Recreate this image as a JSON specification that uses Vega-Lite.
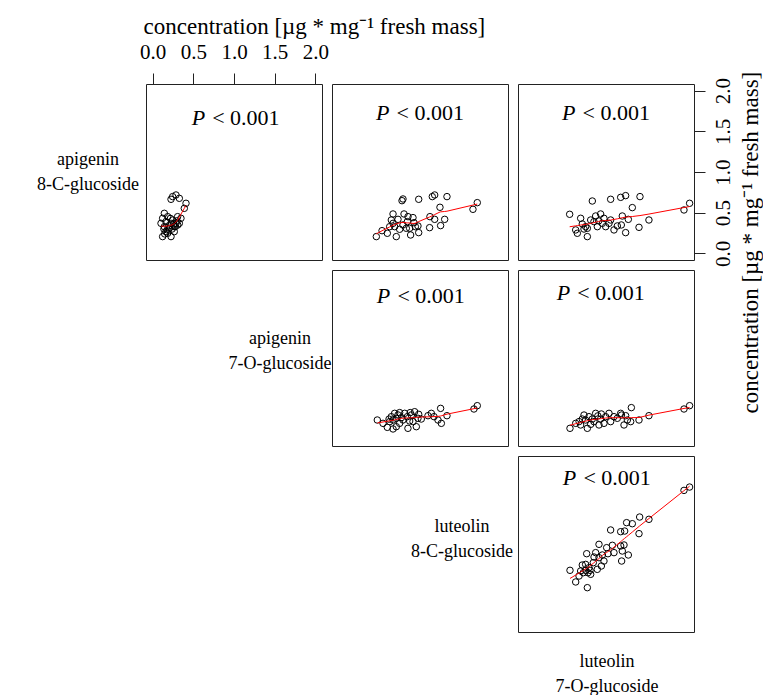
{
  "$schema": "https://vega.github.io/schema/vega-lite/v6.json",
  "padding": {"left": 0, "top": 14, "right": 0, "bottom": 0},
  "background": "white",
  "config": {
    "view": {"stroke": "#222", "strokeWidth": 1},
    "font": "Liberation Serif",
    "axis": {"labelFont": "Liberation Serif", "titleFont": "Liberation Serif", "labelColor": "black", "titleColor": "black", "tickColor": "#222", "titleFontWeight": "normal"}
  },
  "datasets": {
    "pts": [
      {"p":"BA","x":0.247,"y":0.698},{"p":"BA","x":0.288,"y":0.718},{"p":"BA","x":0.329,"y":0.677},{"p":"BA","x":0.227,"y":0.665},{"p":"BA","x":0.411,"y":0.616},{"p":"BA","x":0.390,"y":0.554},{"p":"BA","x":0.145,"y":0.493},{"p":"BA","x":0.124,"y":0.207},{"p":"BA","x":0.227,"y":0.207},{"p":"BA","x":0.165,"y":0.268},{"p":"BA","x":0.104,"y":0.370},{"p":"BA","x":0.186,"y":0.452},{"p":"BA","x":0.247,"y":0.411},{"p":"BA","x":0.308,"y":0.452},{"p":"BA","x":0.329,"y":0.370},{"p":"BA","x":0.267,"y":0.329},{"p":"BA","x":0.206,"y":0.309},{"p":"BA","x":0.145,"y":0.329},{"p":"BA","x":0.288,"y":0.370},{"p":"BA","x":0.349,"y":0.432},{"p":"BA","x":0.124,"y":0.432},{"p":"BA","x":0.227,"y":0.370},{"p":"BA","x":0.186,"y":0.248},{"p":"BA","x":0.267,"y":0.268},{"p":"BA","x":0.165,"y":0.391},{"p":"BA","x":0.20,"y":0.34},{"p":"BA","x":0.24,"y":0.30},{"p":"BA","x":0.18,"y":0.29},{"p":"BA","x":0.30,"y":0.40},{"p":"BA","x":0.26,"y":0.36},{"p":"BA","x":0.15,"y":0.24},{"p":"BA","x":0.22,"y":0.43},{"p":"BA","x":0.28,"y":0.33},{"p":"BA","x":0.31,"y":0.35},{"p":"BA","x":0.14,"y":0.30},
      {"p":"CA","x":1.703,"y":0.624},{"p":"CA","x":1.650,"y":0.542},{"p":"CA","x":1.331,"y":0.698},{"p":"CA","x":1.180,"y":0.718},{"p":"CA","x":1.151,"y":0.698},{"p":"CA","x":0.984,"y":0.665},{"p":"CA","x":0.791,"y":0.669},{"p":"CA","x":0.779,"y":0.648},{"p":"CA","x":1.245,"y":0.567},{"p":"CA","x":1.303,"y":0.419},{"p":"CA","x":1.180,"y":0.419},{"p":"CA","x":1.122,"y":0.452},{"p":"CA","x":1.253,"y":0.342},{"p":"CA","x":1.118,"y":0.317},{"p":"CA","x":0.984,"y":0.256},{"p":"CA","x":0.975,"y":0.338},{"p":"CA","x":0.926,"y":0.378},{"p":"CA","x":0.853,"y":0.452},{"p":"CA","x":0.804,"y":0.485},{"p":"CA","x":0.669,"y":0.485},{"p":"CA","x":0.730,"y":0.419},{"p":"CA","x":0.669,"y":0.370},{"p":"CA","x":0.628,"y":0.329},{"p":"CA","x":0.534,"y":0.280},{"p":"CA","x":0.464,"y":0.207},{"p":"CA","x":0.599,"y":0.248},{"p":"CA","x":0.709,"y":0.207},{"p":"CA","x":0.750,"y":0.297},{"p":"CA","x":0.873,"y":0.309},{"p":"CA","x":0.885,"y":0.227},{"p":"CA","x":0.845,"y":0.391},{"p":"CA","x":0.914,"y":0.440},{"p":"CA","x":0.943,"y":0.329},{"p":"CA","x":0.791,"y":0.350},{"p":"CA","x":0.689,"y":0.329},{"p":"CA","x":0.648,"y":0.411},{"p":"CA","x":0.832,"y":0.309},
      {"p":"DA","x":2.026,"y":0.616},{"p":"DA","x":1.957,"y":0.534},{"p":"DA","x":1.527,"y":0.411},{"p":"DA","x":1.405,"y":0.321},{"p":"DA","x":1.417,"y":0.698},{"p":"DA","x":1.323,"y":0.563},{"p":"DA","x":1.241,"y":0.710},{"p":"DA","x":1.180,"y":0.689},{"p":"DA","x":1.057,"y":0.665},{"p":"DA","x":0.832,"y":0.644},{"p":"DA","x":0.554,"y":0.481},{"p":"DA","x":0.689,"y":0.432},{"p":"DA","x":0.628,"y":0.289},{"p":"DA","x":0.648,"y":0.248},{"p":"DA","x":0.771,"y":0.207},{"p":"DA","x":0.771,"y":0.309},{"p":"DA","x":0.873,"y":0.460},{"p":"DA","x":0.934,"y":0.485},{"p":"DA","x":0.975,"y":0.432},{"p":"DA","x":1.057,"y":0.411},{"p":"DA","x":1.200,"y":0.460},{"p":"DA","x":1.274,"y":0.419},{"p":"DA","x":1.241,"y":0.256},{"p":"DA","x":1.098,"y":0.289},{"p":"DA","x":0.812,"y":0.411},{"p":"DA","x":0.894,"y":0.329},{"p":"DA","x":0.996,"y":0.329},{"p":"DA","x":1.139,"y":0.338},{"p":"DA","x":1.188,"y":0.350},{"p":"DA","x":0.709,"y":0.362},{"p":"DA","x":0.852,"y":0.391},{"p":"DA","x":0.955,"y":0.370},{"p":"DA","x":0.750,"y":0.329},{"p":"DA","x":1.037,"y":0.370},{"p":"DA","x":0.910,"y":0.400},{"p":"DA","x":0.730,"y":0.300},
      {"p":"CB","x":1.703,"y":0.415},{"p":"CB","x":1.662,"y":0.374},{"p":"CB","x":1.331,"y":0.292},{"p":"CB","x":1.253,"y":0.382},{"p":"CB","x":1.139,"y":0.321},{"p":"CB","x":1.172,"y":0.280},{"p":"CB","x":1.221,"y":0.239},{"p":"CB","x":1.262,"y":0.198},{"p":"CB","x":0.984,"y":0.309},{"p":"CB","x":0.975,"y":0.260},{"p":"CB","x":0.894,"y":0.301},{"p":"CB","x":0.873,"y":0.227},{"p":"CB","x":0.812,"y":0.321},{"p":"CB","x":0.791,"y":0.239},{"p":"CB","x":0.730,"y":0.301},{"p":"CB","x":0.689,"y":0.321},{"p":"CB","x":0.669,"y":0.239},{"p":"CB","x":0.628,"y":0.219},{"p":"CB","x":0.599,"y":0.149},{"p":"CB","x":0.669,"y":0.129},{"p":"CB","x":0.709,"y":0.157},{"p":"CB","x":0.546,"y":0.198},{"p":"CB","x":0.476,"y":0.239},{"p":"CB","x":0.852,"y":0.137},{"p":"CB","x":0.955,"y":0.157},{"p":"CB","x":0.750,"y":0.198},{"p":"CB","x":0.914,"y":0.219},{"p":"CB","x":0.845,"y":0.280},{"p":"CB","x":0.771,"y":0.268},{"p":"CB","x":0.709,"y":0.260},{"p":"CB","x":0.648,"y":0.280},{"p":"CB","x":0.934,"y":0.341},{"p":"CB","x":1.016,"y":0.251},{"p":"CB","x":1.098,"y":0.292},{"p":"CB","x":0.750,"y":0.330},{"p":"CB","x":0.880,"y":0.330},{"p":"CB","x":0.620,"y":0.250},
      {"p":"DB","x":2.026,"y":0.415},{"p":"DB","x":1.957,"y":0.374},{"p":"DB","x":1.527,"y":0.292},{"p":"DB","x":1.405,"y":0.239},{"p":"DB","x":1.311,"y":0.391},{"p":"DB","x":1.241,"y":0.292},{"p":"DB","x":1.180,"y":0.321},{"p":"DB","x":1.262,"y":0.239},{"p":"DB","x":1.098,"y":0.280},{"p":"DB","x":1.057,"y":0.219},{"p":"DB","x":0.996,"y":0.280},{"p":"DB","x":0.934,"y":0.251},{"p":"DB","x":0.873,"y":0.321},{"p":"DB","x":0.852,"y":0.219},{"p":"DB","x":0.791,"y":0.280},{"p":"DB","x":0.750,"y":0.239},{"p":"DB","x":0.709,"y":0.251},{"p":"DB","x":0.771,"y":0.137},{"p":"DB","x":0.689,"y":0.178},{"p":"DB","x":0.628,"y":0.198},{"p":"DB","x":0.558,"y":0.137},{"p":"DB","x":0.914,"y":0.178},{"p":"DB","x":0.975,"y":0.198},{"p":"DB","x":1.139,"y":0.260},{"p":"DB","x":0.812,"y":0.186},{"p":"DB","x":1.037,"y":0.321},{"p":"DB","x":0.943,"y":0.313},{"p":"DB","x":0.832,"y":0.251},{"p":"DB","x":1.221,"y":0.178},{"p":"DB","x":1.303,"y":0.219},{"p":"DB","x":0.730,"y":0.300},{"p":"DB","x":0.900,"y":0.290},{"p":"DB","x":1.190,"y":0.300},{"p":"DB","x":0.670,"y":0.220},
      {"p":"DC","x":2.026,"y":1.699},{"p":"DC","x":1.957,"y":1.658},{"p":"DC","x":1.527,"y":1.303},{"p":"DC","x":1.413,"y":1.331},{"p":"DC","x":1.253,"y":1.262},{"p":"DC","x":1.323,"y":1.249},{"p":"DC","x":1.229,"y":1.159},{"p":"DC","x":1.180,"y":1.151},{"p":"DC","x":1.405,"y":1.127},{"p":"DC","x":1.057,"y":1.172},{"p":"DC","x":1.221,"y":0.988},{"p":"DC","x":1.180,"y":0.975},{"p":"DC","x":1.078,"y":0.984},{"p":"DC","x":1.008,"y":0.955},{"p":"DC","x":0.914,"y":0.996},{"p":"DC","x":1.200,"y":0.914},{"p":"DC","x":1.098,"y":0.894},{"p":"DC","x":1.024,"y":0.881},{"p":"DC","x":0.955,"y":0.865},{"p":"DC","x":0.853,"y":0.840},{"p":"DC","x":0.763,"y":0.881},{"p":"DC","x":0.873,"y":0.894},{"p":"DC","x":1.274,"y":0.865},{"p":"DC","x":1.192,"y":0.791},{"p":"DC","x":0.975,"y":0.791},{"p":"DC","x":0.914,"y":0.832},{"p":"DC","x":0.844,"y":0.771},{"p":"DC","x":0.750,"y":0.750},{"p":"DC","x":0.709,"y":0.742},{"p":"DC","x":0.791,"y":0.709},{"p":"DC","x":0.943,"y":0.730},{"p":"DC","x":0.893,"y":0.689},{"p":"DC","x":0.558,"y":0.677},{"p":"DC","x":0.689,"y":0.669},{"p":"DC","x":0.750,"y":0.677},{"p":"DC","x":0.779,"y":0.648},{"p":"DC","x":0.812,"y":0.628},{"p":"DC","x":0.669,"y":0.607},{"p":"DC","x":0.628,"y":0.534},{"p":"DC","x":0.771,"y":0.464},{"p":"DC","x":0.722,"y":0.648},{"p":"DC","x":0.804,"y":0.677}
    ]
  },
  "columns": 4,
  "spacing": 10,
  "bounds": "flush",
  "align": "each",
  "concat": [
    {"width": 136, "height": 176, "view": {"stroke": null},
     "data": {"values": [{"lx": 0.647, "ly": 0.568, "t": "apigenin\n8-C-glucoside"}]},
     "mark": {"type": "text", "font": "Liberation Serif", "fontSize": 18, "lineBreak": "\n", "lineHeight": 25, "align": "center", "baseline": "middle", "color": "black"},
     "encoding": {"x": {"field": "lx", "type": "quantitative", "scale": {"domain": [0, 1]}, "axis": null}, "y": {"field": "ly", "type": "quantitative", "scale": {"domain": [0, 1]}, "axis": null}, "text": {"field": "t"}}},
    {"width": 176, "height": 176, "data": {"name": "pts"}, "transform": [{"filter": "datum.p == 'BA'"}],
     "layer": [
       {"mark": {"type": "point", "shape": "circle", "filled": false, "stroke": "black", "strokeWidth": 1, "size": 42, "opacity": 1},
        "encoding": {"x": {"field": "x", "type": "quantitative", "scale": {"domain": [-0.08, 2.08], "nice": false, "zero": false},
                           "axis": {"orient": "top", "values": [0, 0.5, 1, 1.5, 2], "format": ".1f", "domain": false, "grid": false, "tickSize": 11, "labelFontSize": 21, "labelBaseline": "middle", "labelPadding": 21, "labelFlush": false, "labelOverlap": false,
                                    "title": "concentration [µg * mg⁻¹ fresh mass]", "titleFontSize": 23, "titleX": -3, "titleY": -51, "titleAlign": "left", "titleBaseline": "alphabetic"}},
                     "y": {"field": "y", "type": "quantitative", "scale": {"domain": [-0.08, 2.08], "nice": false, "zero": false}, "axis": null}}},
       {"transform": [{"loess": "y", "on": "x", "bandwidth": 0.67}], "mark": {"type": "line", "color": "red", "strokeWidth": 1},
        "encoding": {"x": {"field": "x", "type": "quantitative"}, "y": {"field": "y", "type": "quantitative"}}},
       {"data": {"values": [{"x": 1.02, "y": 1.66}]}, "mark": {"type": "text", "text": "P", "fontStyle": "italic", "fontSize": 22, "align": "left", "baseline": "middle", "dx": -44, "color": "black"},
        "encoding": {"x": {"field": "x", "type": "quantitative"}, "y": {"field": "y", "type": "quantitative"}}},
       {"data": {"values": [{"x": 1.02, "y": 1.66}]}, "mark": {"type": "text", "text": "< 0.001", "fontSize": 22, "align": "right", "baseline": "middle", "dx": 44, "color": "black"},
        "encoding": {"x": {"field": "x", "type": "quantitative"}, "y": {"field": "y", "type": "quantitative"}}}
     ]},
    {"width": 176, "height": 176, "data": {"name": "pts"}, "transform": [{"filter": "datum.p == 'CA'"}],
     "layer": [
       {"mark": {"type": "point", "shape": "circle", "filled": false, "stroke": "black", "strokeWidth": 1, "size": 42, "opacity": 1},
        "encoding": {"x": {"field": "x", "type": "quantitative", "scale": {"domain": [-0.08, 2.08], "nice": false, "zero": false}, "axis": null},
                     "y": {"field": "y", "type": "quantitative", "scale": {"domain": [-0.08, 2.08], "nice": false, "zero": false}, "axis": null}}},
       {"transform": [{"loess": "y", "on": "x", "bandwidth": 0.67}], "mark": {"type": "line", "color": "red", "strokeWidth": 1},
        "encoding": {"x": {"field": "x", "type": "quantitative"}, "y": {"field": "y", "type": "quantitative"}}},
       {"data": {"values": [{"x": 1.0, "y": 1.72}]}, "mark": {"type": "text", "text": "P", "fontStyle": "italic", "fontSize": 22, "align": "left", "baseline": "middle", "dx": -44, "color": "black"},
        "encoding": {"x": {"field": "x", "type": "quantitative"}, "y": {"field": "y", "type": "quantitative"}}},
       {"data": {"values": [{"x": 1.0, "y": 1.72}]}, "mark": {"type": "text", "text": "< 0.001", "fontSize": 22, "align": "right", "baseline": "middle", "dx": 44, "color": "black"},
        "encoding": {"x": {"field": "x", "type": "quantitative"}, "y": {"field": "y", "type": "quantitative"}}}
     ]},
    {"width": 176, "height": 176, "data": {"name": "pts"}, "transform": [{"filter": "datum.p == 'DA'"}],
     "layer": [
       {"mark": {"type": "point", "shape": "circle", "filled": false, "stroke": "black", "strokeWidth": 1, "size": 42, "opacity": 1},
        "encoding": {"x": {"field": "x", "type": "quantitative", "scale": {"domain": [-0.08, 2.08], "nice": false, "zero": false}, "axis": null},
                     "y": {"field": "y", "type": "quantitative", "scale": {"domain": [-0.08, 2.08], "nice": false, "zero": false},
                           "axis": {"orient": "right", "values": [0, 0.5, 1, 1.5, 2], "format": ".1f", "domain": false, "grid": false, "tickSize": 11, "labelFontSize": 21, "labelAngle": 270, "labelAlign": "center", "labelBaseline": "middle", "labelPadding": 18, "labelFlush": false, "labelOverlap": false,
                                    "title": "concentration [µg * mg⁻¹ fresh mass]", "titleFontSize": 23, "titleAngle": 270, "titleX": 63, "titleY": 329, "titleAlign": "left", "titleBaseline": "alphabetic"}}}},
       {"transform": [{"loess": "y", "on": "x", "bandwidth": 0.67}], "mark": {"type": "line", "color": "red", "strokeWidth": 1},
        "encoding": {"x": {"field": "x", "type": "quantitative"}, "y": {"field": "y", "type": "quantitative"}}},
       {"data": {"values": [{"x": 1.0, "y": 1.72}]}, "mark": {"type": "text", "text": "P", "fontStyle": "italic", "fontSize": 22, "align": "left", "baseline": "middle", "dx": -44, "color": "black"},
        "encoding": {"x": {"field": "x", "type": "quantitative"}, "y": {"field": "y", "type": "quantitative"}}},
       {"data": {"values": [{"x": 1.0, "y": 1.72}]}, "mark": {"type": "text", "text": "< 0.001", "fontSize": 22, "align": "right", "baseline": "middle", "dx": 44, "color": "black"},
        "encoding": {"x": {"field": "x", "type": "quantitative"}, "y": {"field": "y", "type": "quantitative"}}}
     ]},
    {"width": 136, "height": 176, "view": {"stroke": null}, "data": {"values": [{"t": ""}]}, "mark": {"type": "text"}, "encoding": {"text": {"field": "t"}}},
    {"width": 176, "height": 176, "view": {"stroke": null},
     "data": {"values": [{"lx": 0.761, "ly": 0.607, "t": "apigenin\n7-O-glucoside"}]},
     "mark": {"type": "text", "font": "Liberation Serif", "fontSize": 18, "lineBreak": "\n", "lineHeight": 25, "align": "center", "baseline": "middle", "color": "black"},
     "encoding": {"x": {"field": "lx", "type": "quantitative", "scale": {"domain": [0, 1]}, "axis": null}, "y": {"field": "ly", "type": "quantitative", "scale": {"domain": [0, 1]}, "axis": null}, "text": {"field": "t"}}},
    {"width": 176, "height": 176, "data": {"name": "pts"}, "transform": [{"filter": "datum.p == 'CB'"}],
     "layer": [
       {"mark": {"type": "point", "shape": "circle", "filled": false, "stroke": "black", "strokeWidth": 1, "size": 42, "opacity": 1},
        "encoding": {"x": {"field": "x", "type": "quantitative", "scale": {"domain": [-0.08, 2.08], "nice": false, "zero": false}, "axis": null},
                     "y": {"field": "y", "type": "quantitative", "scale": {"domain": [-0.08, 2.08], "nice": false, "zero": false}, "axis": null}}},
       {"transform": [{"loess": "y", "on": "x", "bandwidth": 0.67}], "mark": {"type": "line", "color": "red", "strokeWidth": 1},
        "encoding": {"x": {"field": "x", "type": "quantitative"}, "y": {"field": "y", "type": "quantitative"}}},
       {"data": {"values": [{"x": 1.01, "y": 1.76}]}, "mark": {"type": "text", "text": "P", "fontStyle": "italic", "fontSize": 22, "align": "left", "baseline": "middle", "dx": -44, "color": "black"},
        "encoding": {"x": {"field": "x", "type": "quantitative"}, "y": {"field": "y", "type": "quantitative"}}},
       {"data": {"values": [{"x": 1.01, "y": 1.76}]}, "mark": {"type": "text", "text": "< 0.001", "fontSize": 22, "align": "right", "baseline": "middle", "dx": 44, "color": "black"},
        "encoding": {"x": {"field": "x", "type": "quantitative"}, "y": {"field": "y", "type": "quantitative"}}}
     ]},
    {"width": 176, "height": 176, "data": {"name": "pts"}, "transform": [{"filter": "datum.p == 'DB'"}],
     "layer": [
       {"mark": {"type": "point", "shape": "circle", "filled": false, "stroke": "black", "strokeWidth": 1, "size": 42, "opacity": 1},
        "encoding": {"x": {"field": "x", "type": "quantitative", "scale": {"domain": [-0.08, 2.08], "nice": false, "zero": false}, "axis": null},
                     "y": {"field": "y", "type": "quantitative", "scale": {"domain": [-0.08, 2.08], "nice": false, "zero": false}, "axis": null}}},
       {"transform": [{"loess": "y", "on": "x", "bandwidth": 0.67}], "mark": {"type": "line", "color": "red", "strokeWidth": 1},
        "encoding": {"x": {"field": "x", "type": "quantitative"}, "y": {"field": "y", "type": "quantitative"}}},
       {"data": {"values": [{"x": 0.935, "y": 1.8}]}, "mark": {"type": "text", "text": "P", "fontStyle": "italic", "fontSize": 22, "align": "left", "baseline": "middle", "dx": -44, "color": "black"},
        "encoding": {"x": {"field": "x", "type": "quantitative"}, "y": {"field": "y", "type": "quantitative"}}},
       {"data": {"values": [{"x": 0.935, "y": 1.8}]}, "mark": {"type": "text", "text": "< 0.001", "fontSize": 22, "align": "right", "baseline": "middle", "dx": 44, "color": "black"},
        "encoding": {"x": {"field": "x", "type": "quantitative"}, "y": {"field": "y", "type": "quantitative"}}}
     ]},
    {"width": 136, "height": 176, "view": {"stroke": null}, "data": {"values": [{"t": ""}]}, "mark": {"type": "text"}, "encoding": {"text": {"field": "t"}}},
    {"width": 176, "height": 176, "view": {"stroke": null}, "data": {"values": [{"t": ""}]}, "mark": {"type": "text"}, "encoding": {"text": {"field": "t"}}},
    {"width": 176, "height": 176, "view": {"stroke": null},
     "data": {"values": [{"lx": 0.739, "ly": 0.597, "t": "luteolin\n8-C-glucoside"}]},
     "mark": {"type": "text", "font": "Liberation Serif", "fontSize": 18, "lineBreak": "\n", "lineHeight": 25, "align": "center", "baseline": "middle", "color": "black"},
     "encoding": {"x": {"field": "lx", "type": "quantitative", "scale": {"domain": [0, 1]}, "axis": null}, "y": {"field": "ly", "type": "quantitative", "scale": {"domain": [0, 1]}, "axis": null}, "text": {"field": "t"}}},
    {"width": 176, "height": 176, "data": {"name": "pts"}, "transform": [{"filter": "datum.p == 'DC'"}],
     "layer": [
       {"mark": {"type": "point", "shape": "circle", "filled": false, "stroke": "black", "strokeWidth": 1, "size": 42, "opacity": 1},
        "encoding": {"x": {"field": "x", "type": "quantitative", "scale": {"domain": [-0.08, 2.08], "nice": false, "zero": false}, "axis": null},
                     "y": {"field": "y", "type": "quantitative", "scale": {"domain": [-0.08, 2.08], "nice": false, "zero": false}, "axis": null}}},
       {"transform": [{"loess": "y", "on": "x", "bandwidth": 0.67}], "mark": {"type": "line", "color": "red", "strokeWidth": 1},
        "encoding": {"x": {"field": "x", "type": "quantitative"}, "y": {"field": "y", "type": "quantitative"}}},
       {"data": {"values": [{"x": 1.01, "y": 1.81}]}, "mark": {"type": "text", "text": "P", "fontStyle": "italic", "fontSize": 22, "align": "left", "baseline": "middle", "dx": -44, "color": "black"},
        "encoding": {"x": {"field": "x", "type": "quantitative"}, "y": {"field": "y", "type": "quantitative"}}},
       {"data": {"values": [{"x": 1.01, "y": 1.81}]}, "mark": {"type": "text", "text": "< 0.001", "fontSize": 22, "align": "right", "baseline": "middle", "dx": 44, "color": "black"},
        "encoding": {"x": {"field": "x", "type": "quantitative"}, "y": {"field": "y", "type": "quantitative"}}}
     ]},
    {"width": 136, "height": 53, "view": {"stroke": null}, "data": {"values": [{"t": ""}]}, "mark": {"type": "text"}, "encoding": {"text": {"field": "t"}}},
    {"width": 176, "height": 53, "view": {"stroke": null}, "data": {"values": [{"t": ""}]}, "mark": {"type": "text"}, "encoding": {"text": {"field": "t"}}},
    {"width": 176, "height": 53, "view": {"stroke": null}, "data": {"values": [{"t": ""}]}, "mark": {"type": "text"}, "encoding": {"text": {"field": "t"}}},
    {"width": 176, "height": 53, "view": {"stroke": null},
     "data": {"values": [{"lx": 0.506, "ly": 0.62, "t": "luteolin\n7-O-glucoside"}]},
     "mark": {"type": "text", "font": "Liberation Serif", "fontSize": 18, "lineBreak": "\n", "lineHeight": 25, "align": "center", "baseline": "middle", "color": "black"},
     "encoding": {"x": {"field": "lx", "type": "quantitative", "scale": {"domain": [0, 1]}, "axis": null}, "y": {"field": "ly", "type": "quantitative", "scale": {"domain": [0, 1]}, "axis": null}, "text": {"field": "t"}}}
  ]
}
